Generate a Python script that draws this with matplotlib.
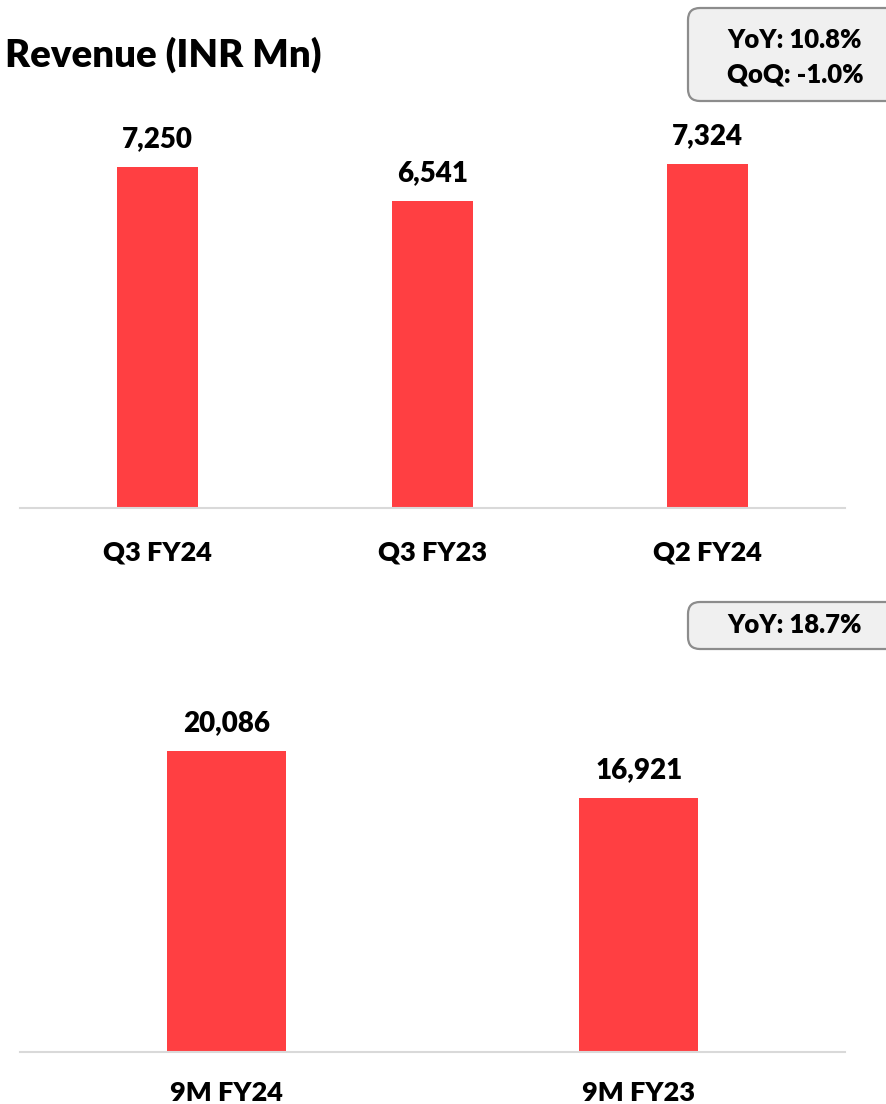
import matplotlib.pyplot as plt
from matplotlib.patches import FancyBboxPatch

plt.rcParams['font.family'] = ['Lato', 'DejaVu Sans']

# data
quarters = ['Q3 FY24', 'Q3 FY23', 'Q2 FY24']
quarter_revenue = [7250, 6541, 7324]
nine_months = ['9M FY24', '9M FY23']
nine_month_revenue = [20086, 16921]
quarter_badge = ['YoY: 10.8%', 'QoQ: -1.0%']
nine_month_badge = ['YoY: 18.7%']

BAR_COLOR = '#FF3F42'
WEIGHT = 'heavy'
W, H = 886, 1104
fig = plt.figure(figsize=(W / 100, H / 100), dpi=100)


def px_axes(left, bottom_px, width, height):
    # bottom_px is measured from the top of the image
    return fig.add_axes([left / W, (H - bottom_px) / H, width / W, height / H])


def draw_bars(ax, cats, vals, width, ymax, label_pad):
    x = range(len(cats))
    ax.bar(x, vals, width=width, color=BAR_COLOR, zorder=2)
    ax.set_xlim(-0.5, len(cats) - 0.5)
    ax.set_ylim(0, ymax)
    for s in ['top', 'right', 'left']:
        ax.spines[s].set_visible(False)
    ax.spines['bottom'].set_color('#D9D9D9')
    ax.spines['bottom'].set_linewidth(1.5)
    ax.set_yticks([])
    ax.set_xticks([])
    for i, v in enumerate(vals):
        ax.annotate(f'{v:,}', xy=(i, v), xytext=(0, 14.5), textcoords='offset points',
                    ha='center', va='baseline', fontsize=20, fontweight=WEIGHT,
                    annotation_clip=False)
        ax.annotate(cats[i], xy=(i, 0), xycoords=('data', 'axes fraction'),
                    xytext=(0, -label_pad), textcoords='offset points',
                    ha='center', va='baseline', fontsize=19.5, fontweight=WEIGHT,
                    annotation_clip=False)


def badge(x0, y0, x1, y1, lines, centers):
    # pixel box (y from top), drawn in inches so corners stay round
    box = FancyBboxPatch((x0 / 100, (H - y1) / 100), (x1 - x0) / 100, (y1 - y0) / 100,
                         boxstyle='round,pad=0,rounding_size=0.12',
                         transform=fig.dpi_scale_trans, facecolor='#F0F0F0',
                         edgecolor='#8C8C8C', linewidth=1.6)
    fig.patches.append(box)
    for t, cy in zip(lines, centers):
        fig.text(795 / W, 1 - cy / H, t, ha='center', va='center',
                 fontsize=18.5, fontweight=WEIGHT)


ax1 = px_axes(20, 508, 825, 408)
draw_bars(ax1, quarters, quarter_revenue, 0.295, 408 / 0.04697, 38)

ax2 = px_axes(20, 1052, 825, 400)
draw_bars(ax2, nine_months, nine_month_revenue, 0.288, 400 / 0.01499, 35.5)

fig.text(5 / W, 1 - 67 / H, 'Revenue (INR Mn)', ha='left', va='baseline',
         fontsize=27.5, fontweight=WEIGHT)

badge(688, 8, 900, 101, quarter_badge, [40, 75])
badge(688, 602, 900, 649, nine_month_badge, [625])

fig.savefig('out.png', dpi=100)
